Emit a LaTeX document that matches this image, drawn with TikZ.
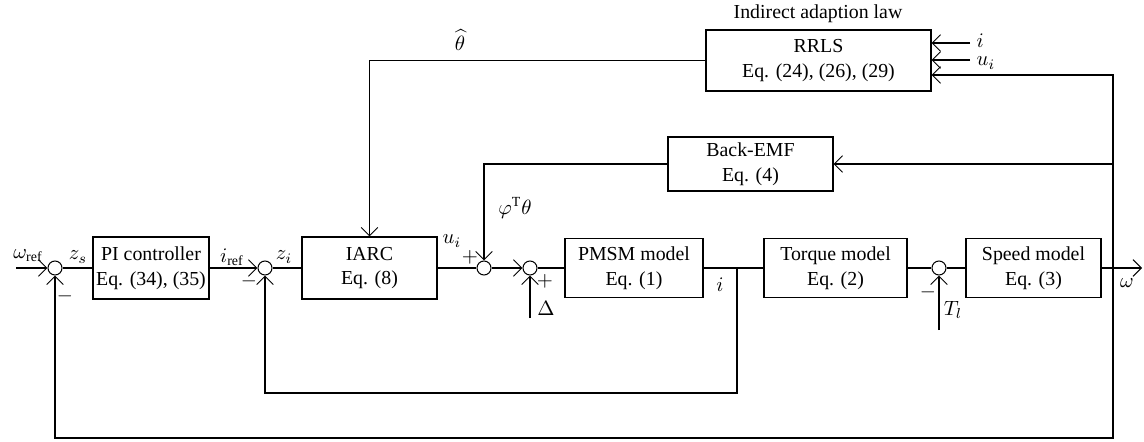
\documentclass[tikz,border=0pt]{standalone}
\usepackage{fontspec}
\setmainfont{Liberation Serif}
\usetikzlibrary{arrows.meta}
\newlength\pxu \setlength\pxu{0.017cm}

\begin{document}
\begin{tikzpicture}[x=1\pxu,y=-1\pxu,line width=0.5pt,>={Straight Barb[length=4pt,width=8pt]},
blk/.style n args={2}{draw,rectangle,minimum width=#1\pxu,minimum height=#2\pxu,inner sep=0pt,align=center,font=\fontsize{9.6}{12}\selectfont},
sumc/.style={draw,circle,minimum size=14\pxu,inner sep=0pt},
lbl/.style={inner sep=0pt,font=\fontsize{9.6}{12}\selectfont}]
\useasboundingbox (0,0) rectangle (1144,441);
% blocks
\node[blk={116}{62}] (pic) at (151,268) {PI controller\\Eq. (34), (35)};
\node[blk={135}{62}] (iarc) at (369.5,268) {IARC\\Eq. (8)};
\node[blk={138}{59}] (pmsm) at (634,268) {PMSM model\\Eq. (1)};
\node[blk={143}{59}] (torque) at (835.5,268) {Torque model\\Eq. (2)};
\node[blk={135}{59}] (speed) at (1033.5,268) {Speed model\\Eq. (3)};
\node[blk={225}{61}] (rrls) at (818.5,60.5) {RRLS\\Eq. (24), (26), (29)};
\node[blk={165}{54}] (bemf) at (750.5,164) {Back-EMF\\Eq. (4)};
\node[lbl] (law) at (818,14) {Indirect adaption law};
% summing points
\foreach \n/\x in {s1/55,s2/265,s3/484,s4/530,s5/939} {
   \node[sumc] (\n) at (\x,268) {};
}
\coordinate (ji) at (737,268);
\coordinate (jw) at (1113,268);
\coordinate (win) at (16,268);
\coordinate (wout) at (1142,268);
\coordinate (din) at (530,318);
\coordinate (tin) at (939,330);
\coordinate (iin) at (970,43);
\coordinate (uin) at (970,60);
\coordinate (fb1) at (1113,438);
\coordinate (fb2) at (737,393);
% forward path
\draw[->] (win) -- (s1);
\draw (s1) -- (pic);
\draw[->] (pic) -- (s2);
\draw (s2) -- (iarc);
\draw (iarc) -- (s3);
\draw[->] (s3) -- (s4);
\draw (s4) -- (pmsm);
\draw (pmsm) -- (torque);
\draw (torque) -- (s5);
\draw (s5) -- (speed);
\draw[->] (speed) -- (wout);
\draw[->] (din) -- (s4);
\draw[->] (tin) -- (s5);
% feedback loops
\draw[->] (jw) -- (fb1) -| (s1);
\draw[->] (ji) -- (fb2) -| (s2);
\draw[->] (rrls.west) -| (iarc.north);
\draw[->] (bemf.west) -| (s3);
\draw[->] (jw) -- (1113,164) -- (bemf.east);
\draw[->] (jw) -- (1113,75) -- (rrls.east |- 0,75);
\draw[->] (iin) -- (rrls.east |- iin);
\draw[->] (uin) -- (rrls.east |- uin);
% labels
\node[lbl] (lw) at (28,256) {$\omega_{\mathrm{ref}}$};
\node[lbl] (lzs) at (78,257) {$z_s$};
\node[lbl] (lm1) at (65,296) {$-$};
\node[lbl] (lir) at (232,257) {$i_{\mathrm{ref}}$};
\node[lbl] (lm2) at (249,281) {$-$};
\node[lbl] (lzi) at (284,257) {$z_i$};
\node[lbl] (lui) at (452,241) {$u_i$};
\node[lbl] (lp3) at (470,257) {$+$};
\node[lbl] (lphi) at (515,208) {$\varphi^{\mathrm{T}}\theta$};
\node[lbl] (lp4) at (545,281) {$+$};
\node[lbl] (ld) at (546,308) {$\Delta$};
\node[lbl] (li) at (720,285) {$i$};
\node[lbl] (lm5) at (928,292) {$-$};
\node[lbl] (ltl) at (953,310) {$T_l$};
\node[lbl] (lom) at (1127,283) {$\omega$};
\node[lbl] (lth) at (460,40) {$\widehat{\theta}$};
\node[lbl,anchor=west] (lri) at (976,41) {$i$};
\node[lbl,anchor=west] (lru) at (976,63) {$u_i$};
\end{tikzpicture}
\end{document}
